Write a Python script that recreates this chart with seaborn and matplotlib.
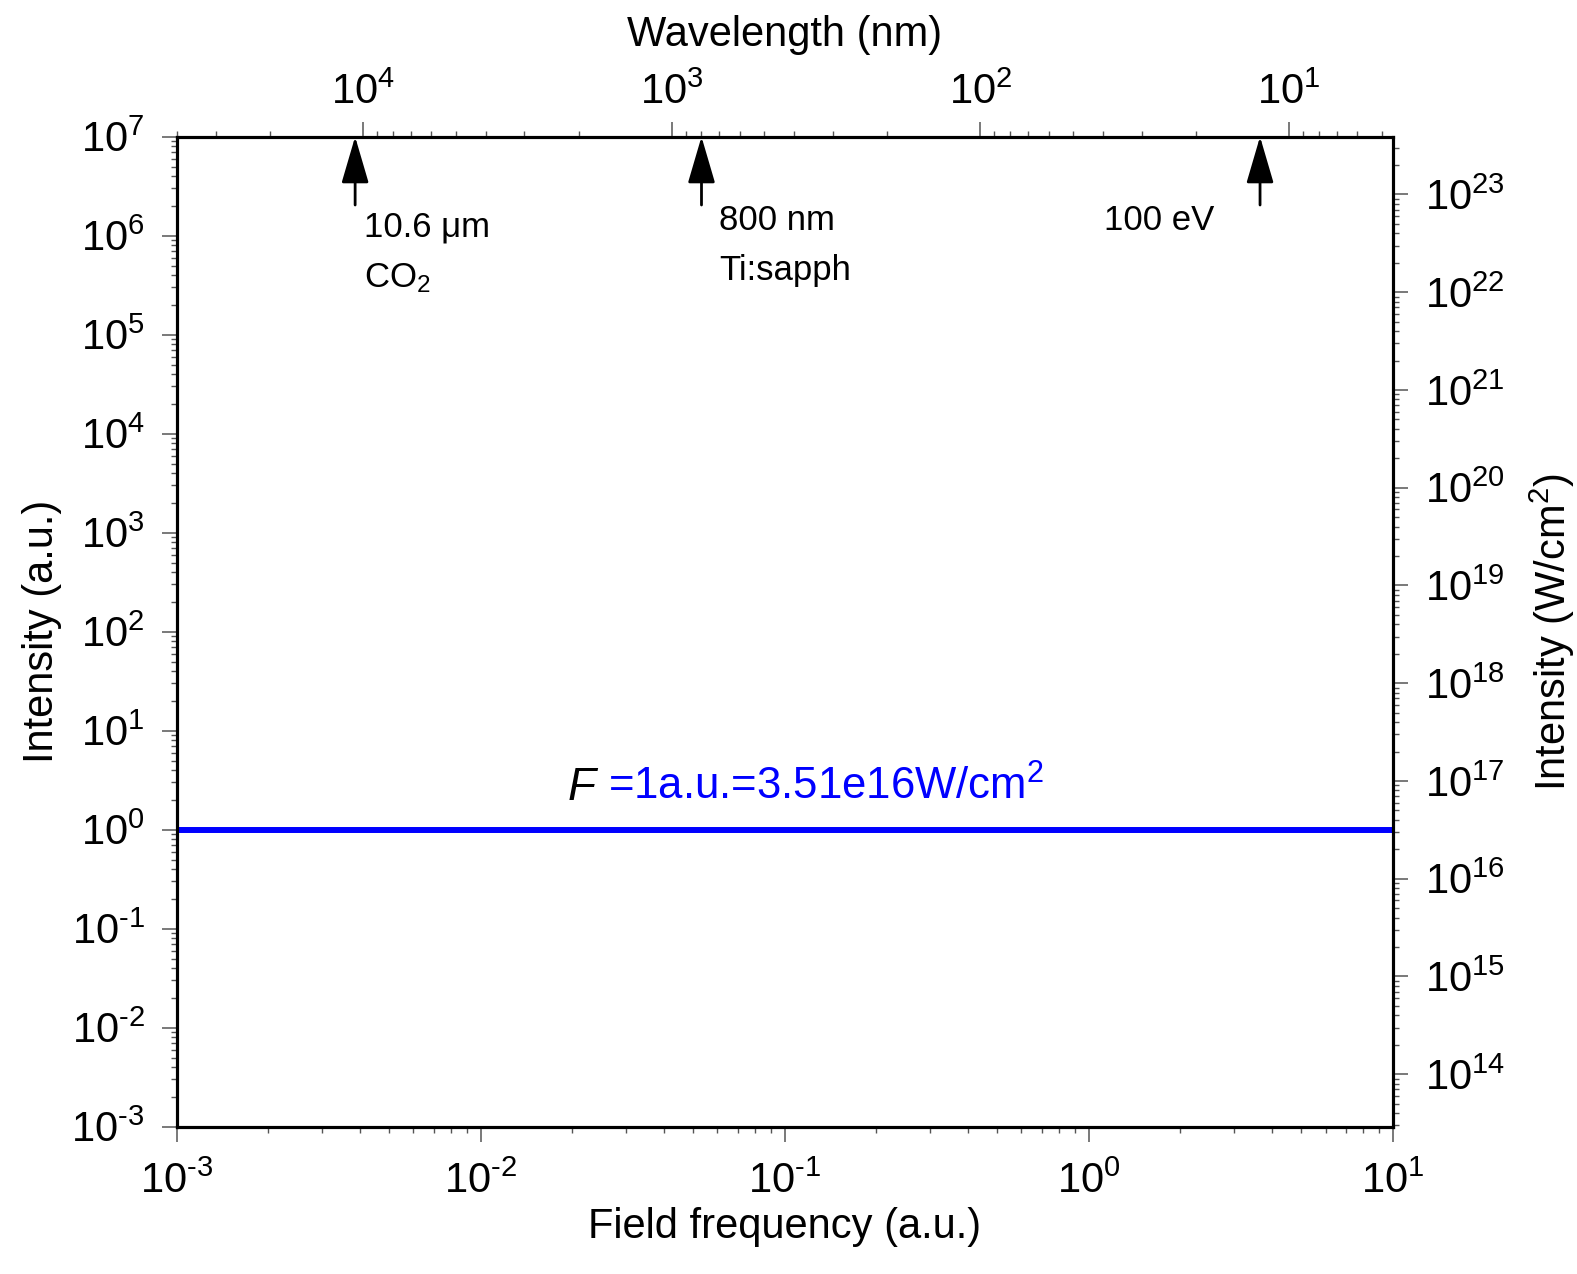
import matplotlib
matplotlib.use('Agg')
import matplotlib.pyplot as plt
from matplotlib.ticker import LogLocator, NullFormatter, FuncFormatter
import numpy as np
import seaborn as sns
import pandas as pd

# field frequency (a.u.) and intensity (a.u.) of the reference line
freq = [1e-3, 1e1]
intensity = [1.0, 1.0]

# laser sources marked on the wavelength axis (nm)
source_wl = [10600, 800, 12.4]

# axis ranges
freq_lim = (1e-3, 1e1)
int_lim = (1e-3, 1e7)
wl_lim = (4.01e4, 4.6)        # top axis, reversed
wcm_lim = (2.9e13, 3.9e23)    # right axis, 1 a.u. = 3.51e16 W/cm^2

sns.set_theme(style='ticks')
plt.rcParams['font.family'] = ['Liberation Sans', 'DejaVu Sans']
plt.rcParams['mathtext.fontset'] = 'custom'
plt.rcParams['mathtext.rm'] = 'Liberation Sans'
plt.rcParams['mathtext.it'] = 'Liberation Sans:italic'
plt.rcParams['mathtext.bf'] = 'Liberation Sans:bold'
plt.rcParams['axes.unicode_minus'] = False
plt.rcParams['text.color'] = 'black'
plt.rcParams['axes.labelcolor'] = 'black'

fig = plt.figure(figsize=(15.77, 12.74), dpi=100)
ax = fig.add_axes([0.1121, 0.1156, 0.7712, 0.7771])

df = pd.DataFrame({'freq': freq, 'intensity': intensity})
sns.lineplot(data=df, x='freq', y='intensity', color='#0000ff', lw=4.3, ax=ax)
ax.set_xscale('log')
ax.set_yscale('log')
ax.set_xlim(freq_lim)
ax.set_ylim(int_lim)

right = ax.twinx()
right.set_yscale('log')
right.set_ylim(wcm_lim)

top = ax.twiny()
top.set_xscale('log')
top.set_xlim(wl_lim)


def pow10(v, pos):
    # plain hyphen for negative exponents, as in the original
    e = int(round(np.log10(v)))
    return r'$\mathdefault{10^{\text{%d}}}$' % e


def log_ticks(axis):
    axis.set_major_locator(LogLocator(base=10, numticks=100))
    axis.set_major_formatter(FuncFormatter(pow10))
    axis.set_minor_locator(LogLocator(base=10, subs=np.arange(2, 10), numticks=100))
    axis.set_minor_formatter(NullFormatter())


for a, name, pad in [(ax, 'x', 14), (ax, 'y', 12), (right, 'y', 12), (top, 'x', 6)]:
    log_ticks(a.xaxis if name == 'x' else a.yaxis)
    a.tick_params(axis=name, which='major', length=11, width=1.1, color='#555555',
                  direction='out', labelsize=30, pad=pad, labelcolor='black')
    a.tick_params(axis=name, which='minor', length=4.5, width=1.0, color='#555555',
                  direction='out')

for a in (ax, right, top):
    for s in a.spines.values():
        s.set_linewidth(2.2)
        s.set_color('black')

ax.set_xlabel('Field frequency (a.u.)', fontsize=30, labelpad=4)
ax.set_ylabel('Intensity (a.u.)', fontsize=30, labelpad=7)
right.set_ylabel('Intensity (W/cm$^2$)', fontsize=30, labelpad=16)
top.set_xlabel('Wavelength (nm)', fontsize=30, labelpad=19)

# arrows marking the sources
for wl in source_wl:
    top.annotate('', xy=(wl, 1.0), xycoords=('data', 'axes fraction'),
                 xytext=(wl, 0.931), textcoords=('data', 'axes fraction'),
                 arrowprops=dict(arrowstyle='-|>,head_length=2.9,head_width=0.85',
                                 color='black', lw=2, shrinkA=0, shrinkB=0,
                                 mutation_scale=10),
                 annotation_clip=False)

tfs = 25
ax.text(0.154, 0.899, '10.6 μm', transform=ax.transAxes, fontsize=tfs, va='baseline')
ax.text(0.154, 0.848, 'CO$_2$', transform=ax.transAxes, fontsize=tfs, va='baseline')
ax.text(0.446, 0.906, '800 nm', transform=ax.transAxes, fontsize=tfs, va='baseline')
ax.text(0.446, 0.855, 'Ti:sapph', transform=ax.transAxes, fontsize=tfs, va='baseline')
ax.text(0.762, 0.906, '100 eV', transform=ax.transAxes, fontsize=tfs, va='baseline')

ax.text(0.3209, 0.330, '$F$', transform=ax.transAxes, fontsize=33, va='baseline',
        color='black')
ax.text(0.3546, 0.330, '=1a.u.=3.51e16W/cm$^2$', transform=ax.transAxes, fontsize=31.5,
        va='baseline', color='#0000ff')

fig.savefig('out.png', dpi=100)
